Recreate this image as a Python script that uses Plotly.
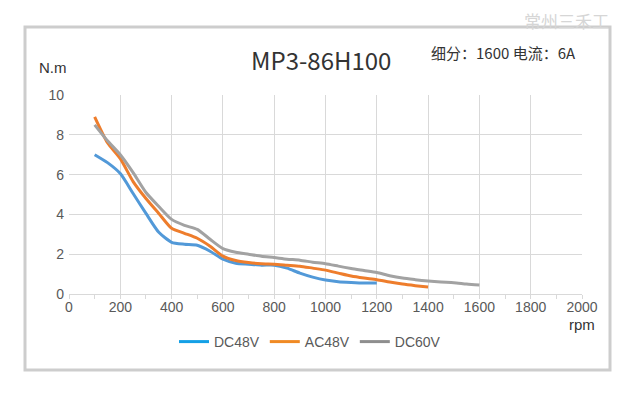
import plotly.graph_objects as go

rpm_dc48 = [100, 150, 200, 250, 300, 350, 400, 450, 500, 550, 600, 650, 700, 750, 800,
            850, 900, 950, 1000, 1050, 1100, 1150, 1200]
torque_dc48 = [7.0, 6.6, 6.05, 5.05, 4.05, 3.1, 2.6, 2.5, 2.45, 2.15, 1.75, 1.55, 1.5, 1.45, 1.45,
               1.3, 1.05, 0.85, 0.7, 0.62, 0.58, 0.55, 0.55]

rpm_ac48 = [100, 150, 200, 250, 300, 350, 400, 450, 500, 550, 600, 650, 700, 750, 800,
            850, 900, 950, 1000, 1050, 1100, 1150, 1200, 1250, 1300, 1350, 1400]
torque_ac48 = [8.9, 7.6, 6.8, 5.65, 4.8, 4.05, 3.3, 3.05, 2.8, 2.4, 1.9, 1.68, 1.58, 1.52, 1.5,
               1.45, 1.4, 1.3, 1.2, 1.05, 0.9, 0.8, 0.72, 0.6, 0.5, 0.42, 0.35]

rpm_dc60 = [100, 150, 200, 250, 300, 350, 400, 450, 500, 550, 600, 650, 700, 750, 800,
            850, 900, 950, 1000, 1050, 1100, 1150, 1200, 1250, 1300, 1350, 1400, 1450, 1500, 1550, 1600]
torque_dc60 = [8.5, 7.7, 7.0, 6.1, 5.1, 4.4, 3.75, 3.45, 3.25, 2.75, 2.28, 2.1, 2.0, 1.9, 1.83,
               1.75, 1.7, 1.6, 1.52, 1.4, 1.28, 1.18, 1.08, 0.92, 0.8, 0.72, 0.65, 0.6, 0.57, 0.5, 0.45]

series_names = ["DC48V", "AC48V", "DC60V"]
line_colors = ["#5299d8", "#ee7d2c", "#a2a2a2"]
legend_colors = ["#14a0e6", "#f08a24", "#8e8e8e"]

x_ticks = [0, 200, 400, 600, 800, 1000, 1200, 1400, 1600, 1800, 2000]
y_ticks = [0, 2, 4, 6, 8, 10]

# page offset of the figure inside the html body
OFF = 8
W, H = 630, 398
# plot area in page pixels: x 69..582, y 95..294
L = 69 - OFF
T = 95 - OFF
R = W - (582 - OFF)
B = H - (294 - OFF)
PW, PH = W - L - R, H - T - B


def px(x):
    return (x - OFF - L) / PW


def py(y):
    return (H - B - (y - OFF)) / PH


fig = go.Figure()
data = [(rpm_dc48, torque_dc48), (rpm_ac48, torque_ac48), (rpm_dc60, torque_dc60)]
for (xs, ys), name, col in zip(data, series_names, line_colors):
    fig.add_trace(go.Scatter(x=xs, y=ys, mode="lines", name=name, showlegend=False,
                             line=dict(color=col, width=3, shape="spline", smoothing=0.6)))
for name, col in zip(series_names, legend_colors):
    fig.add_trace(go.Scatter(x=[None], y=[None], mode="lines", name=name,
                             line=dict(color=col, width=3)))

tick_font = dict(family="Liberation Sans, Arial, sans-serif", size=14, color="#595959")

fig.update_layout(
    width=W, height=H,
    margin=dict(l=L, r=R, t=T, b=B),
    paper_bgcolor="white", plot_bgcolor="white",
    showlegend=True,
    legend=dict(orientation="h", x=px(310), xanchor="center", y=py(342), yanchor="middle",
                font=tick_font, bgcolor="rgba(0,0,0,0)", itemwidth=30,
                tracegroupgap=0),
    xaxis=dict(range=[0, 2000], tickvals=x_ticks, ticktext=[str(v) for v in x_ticks],
               showgrid=True, gridcolor="#d9d9d9", gridwidth=1,
               showline=True, linecolor="#d9d9d9", linewidth=1,
               ticks="",
               minor=dict(dtick=100, tick0=0, ticks="outside", ticklen=4, tickcolor="#d9d9d9", showgrid=False),
               zeroline=False, tickfont=tick_font, fixedrange=True),
    yaxis=dict(range=[0, 10], tickvals=y_ticks, ticktext=[str(v) for v in y_ticks],
               showgrid=True, gridcolor="#d9d9d9", gridwidth=1,
               showline=False, zeroline=False, ticks="", ticklabelstandoff=4,
               tickfont=tick_font, fixedrange=True),
)

fig.add_shape(type="rect", xref="paper", yref="paper",
              x0=px(25), x1=px(610), y0=py(370), y1=py(27),
              line=dict(color="#cdcdcd", width=3), fillcolor="rgba(0,0,0,0)", layer="below")

cjk = "Noto Sans CJK SC"
fig.add_annotation(text="MP3-86H100", xref="paper", yref="paper", x=px(321), y=py(59),
                   xanchor="center", yanchor="middle", showarrow=False,
                   font=dict(family=cjk, size=24, color="#333333"))
fig.add_annotation(text="细分：1600 电流：6A", xref="paper", yref="paper", x=px(578), y=py(52),
                   xanchor="right", yanchor="middle", showarrow=False,
                   font=dict(family=cjk, size=15, color="#333333"))
fig.add_annotation(text="N.m", xref="paper", yref="paper", x=px(37), y=py(67),
                   xanchor="left", yanchor="middle", showarrow=False,
                   font=dict(family="Liberation Sans, Arial, sans-serif", size=15, color="#333333"))
fig.add_annotation(text="rpm", xref="paper", yref="paper", x=px(597), y=py(324),
                   xanchor="right", yanchor="middle", showarrow=False,
                   font=dict(family="Liberation Sans, Arial, sans-serif", size=15, color="#333333"))
fig.add_annotation(text="常州三禾工", xref="paper", yref="paper", x=px(522), y=py(21),
                   xanchor="left", yanchor="middle", showarrow=False,
                   font=dict(family=cjk, size=17, color="#d6d6d6"))

fig.write_html("out.html")
